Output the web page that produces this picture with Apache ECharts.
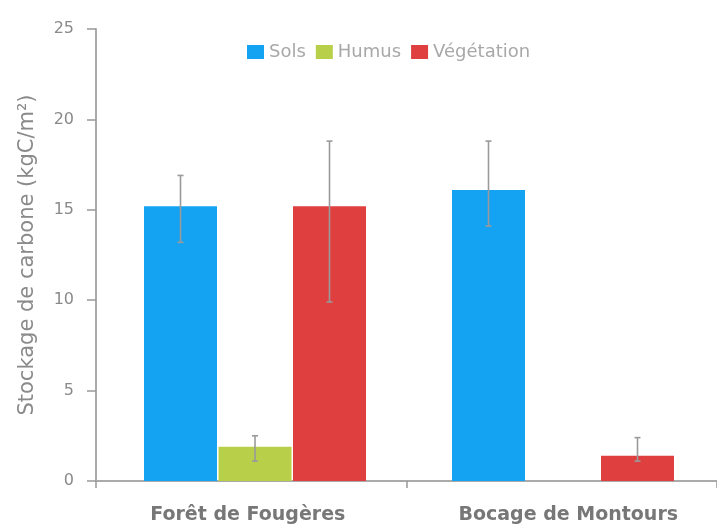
<!DOCTYPE html>
<html>
<head>
<meta charset="utf-8">
<script src="https://cdn.jsdelivr.net/npm/echarts@6/dist/echarts.min.js"></script>
<style>
  html, body { margin: 0; padding: 0; background: #fff; }
  #chart { width: 717px; height: 529px; }
</style>
</head>
<body>
<div id="chart"></div>
<script>
// Carbon storage per compartment at two sites (kgC/m²)
const sites = ['Forêt de Fougères', 'Bocage de Montours'];
const seriesNames = ['Sols', 'Humus', 'Végétation'];
const solsValues = [15.2, 16.1];
const humusValues = [1.9, null];
const vegetationValues = [15.2, 1.4];
// error bar bounds [low, high] for each site
const solsErr = [[13.2, 16.9], [14.1, 18.8]];
const humusErr = [[1.1, 2.5], null];
const vegetationErr = [[9.9, 18.8], [1.1, 2.4]];
const yTicks = [0, 5, 10, 15, 20, 25];

const colors = ['#14a3f2', '#b7cf49', '#e03f3f'];
const FONT = 'DejaVu Sans';
const BAR_W = 73;
const BAR_GAP_PX = 1.5;

const valueSets = [solsValues, humusValues, vegetationValues];
const errSets = [solsErr, humusErr, vegetationErr];

// flatten error data: [categoryIndex, seriesIndex, low, high]
const errData = [];
errSets.forEach((set, si) => {
  set.forEach((e, ci) => { if (e) errData.push([ci, si, e[0], e[1]]); });
});

const chart = echarts.init(document.getElementById('chart'));

// bars live on their own (hidden) axes, slightly shifted from the drawn frame
const barSeries = seriesNames.map((name, i) => ({
  name: name,
  type: 'bar',
  xAxisIndex: 1,
  yAxisIndex: 1,
  data: valueSets[i],
  barWidth: BAR_W,
  barGap: (BAR_GAP_PX / BAR_W * 100) + '%',
  itemStyle: { color: colors[i] },
  emphasis: { disabled: true }
}));

const errorSeries = {
  type: 'custom',
  name: 'err',
  xAxisIndex: 1,
  yAxisIndex: 1,
  z: 10,
  data: errData,
  encode: { x: 0, y: [2, 3] },
  renderItem: function (params, api) {
    const ci = api.value(0);
    const si = api.value(1);
    const lo = api.coord([ci, api.value(2)]);
    const hi = api.coord([ci, api.value(3)]);
    const x = lo[0] + (si - 1) * (BAR_W + BAR_GAP_PX);
    const cap = 3;
    const style = { stroke: '#9a9a9a', lineWidth: 1.6 };
    return {
      type: 'group',
      children: [
        { type: 'line', shape: { x1: x, y1: hi[1], x2: x, y2: lo[1] }, style: style },
        { type: 'line', shape: { x1: x - cap, y1: hi[1], x2: x + cap, y2: hi[1] }, style: style },
        { type: 'line', shape: { x1: x - cap, y1: lo[1], x2: x + cap, y2: lo[1] }, style: style }
      ]
    };
  }
};

const yMin = yTicks[0];
const yMax = yTicks[yTicks.length - 1];

chart.setOption({
  animation: false,
  textStyle: { fontFamily: FONT },
  legend: {
    data: seriesNames,
    top: 38,
    left: 242,
    itemWidth: 17,
    itemHeight: 14,
    itemGap: 10,
    icon: 'rect',
    textStyle: { color: '#a8a8a8', fontSize: 18, fontFamily: FONT }
  },
  grid: [
    { left: 96, right: -2, top: 29, bottom: 48, containLabel: false },
    { left: 101, right: -7, top: 29, bottom: 48, containLabel: false }
  ],
  xAxis: [
    {
      type: 'category',
      gridIndex: 0,
      data: sites,
      axisLine: { lineStyle: { color: '#aaaaaa', width: 2 } },
      axisTick: { show: true, interval: 0, length: 7, lineStyle: { color: '#999', width: 1.5 } },
      axisLabel: {
        interval: 0,
        hideOverlap: false,
        color: '#777',
        fontSize: 19,
        fontWeight: 'bold',
        margin: 25,
        fontFamily: FONT,
        formatter: function (v, i) { return (i === 0 ? '{a|' : '{b|') + v + '}'; },
        rich: {
          a: { color: '#777', fontSize: 19, fontWeight: 'bold', fontFamily: FONT, padding: [0, 7, 0, 0] },
          b: { color: '#777', fontSize: 19, fontWeight: 'bold', fontFamily: FONT, padding: [0, 0, 0, 13] }
        }
      }
    },
    {
      type: 'category',
      gridIndex: 1,
      data: sites,
      show: false
    }
  ],
  yAxis: [
    {
      type: 'value',
      gridIndex: 0,
      min: yMin,
      max: yMax,
      interval: 5,
      name: 'Stockage de carbone (kgC/m²)',
      nameLocation: 'middle',
      nameGap: 58,
      nameTextStyle: { color: '#8a8a8a', fontSize: 21, fontFamily: FONT },
      axisLine: { show: true, lineStyle: { color: '#aaaaaa', width: 2 } },
      axisTick: { show: true, length: 9, lineStyle: { color: '#999', width: 1.5 } },
      axisLabel: { color: '#8a8a8a', fontSize: 16, margin: 22, fontFamily: FONT },
      splitLine: { show: false }
    },
    {
      type: 'value',
      gridIndex: 1,
      min: yMin,
      max: yMax,
      interval: 5,
      show: false,
      splitLine: { show: false }
    }
  ],
  series: barSeries.concat([errorSeries])
});
</script>
</body>
</html>
